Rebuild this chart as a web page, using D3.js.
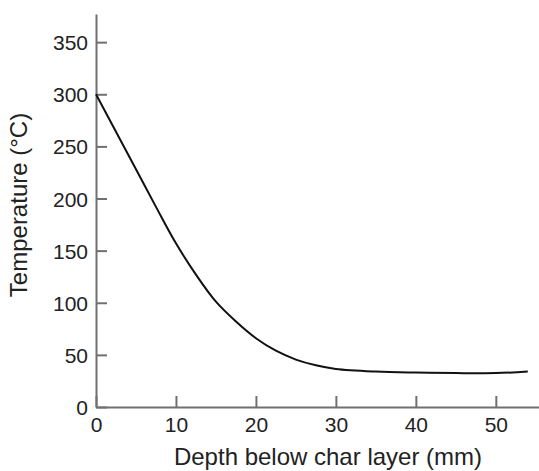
<!DOCTYPE html>
<html>
<head>
<meta charset="utf-8">
<script src="https://cdn.jsdelivr.net/npm/d3@7"></script>
<style>
  body { margin: 0; background: #fff; }
  svg text { font-family: "Liberation Sans", Arial, Helvetica, sans-serif; fill: #222; }
</style>
</head>
<body>
<div id="chart"></div>
<script>
const depth = [0, 2.5, 5, 7.5, 10, 12.5, 15, 17.5, 20, 22.5, 25, 27.5, 30, 35, 40, 45, 50, 54];
const temperature = [300, 264, 228, 192, 157, 127, 101, 82, 66, 54, 45.5, 40, 36.5, 34, 33, 32.5, 32.5, 34];
const xTicks = [0, 10, 20, 30, 40, 50];
const yTicks = [0, 50, 100, 150, 200, 250, 300, 350];

const width = 539,
  height = 471;

const x = d3.scaleLinear().domain([0, 55.4]).range([96, 539]);
const y = d3.scaleLinear().domain([0, 377]).range([407, 14]);

const svg = d3
  .select("#chart")
  .append("svg")
  .attr("width", width)
  .attr("height", height);

const axisColor = "#707070";

// x axis, ticks pointing up into the plot
const gx = svg
  .append("g")
  .attr("transform", `translate(0,${y(0)})`)
  .call(d3.axisBottom(x).tickValues(xTicks).tickSizeInner(-11).tickSizeOuter(0).tickPadding(10));

// y axis, ticks pointing right
const gy = svg
  .append("g")
  .attr("transform", `translate(${x(0)},0)`)
  .call(d3.axisLeft(y).tickValues(yTicks).tickSizeInner(-11).tickSizeOuter(0).tickPadding(8));

[gx, gy].forEach((g) => {
  g.select(".domain").attr("stroke", axisColor).attr("stroke-width", 2);
  g.selectAll(".tick line").attr("stroke", axisColor).attr("stroke-width", 2);
  g.selectAll(".tick text").style("font-size", "21px").attr("fill", "#222");
});
gy.selectAll(".tick text").attr("dy", "0.36em");

const line = d3
  .line()
  .x((d, i) => x(depth[i]))
  .y((d) => y(d))
  .curve(d3.curveCatmullRom.alpha(0.5));

svg
  .append("path")
  .datum(temperature)
  .attr("fill", "none")
  .attr("stroke", "#111")
  .attr("stroke-width", 2)
  .attr("d", line);

svg
  .append("text")
  .attr("x", 328)
  .attr("y", 465)
  .attr("text-anchor", "middle")
  .style("font-size", "24px")
  .text("Depth below char layer (mm)");

svg
  .append("text")
  .attr("transform", "translate(27,205) rotate(-90)")
  .attr("text-anchor", "middle")
  .style("font-size", "24px")
  .text("Temperature (°C)");
</script>
</body>
</html>
